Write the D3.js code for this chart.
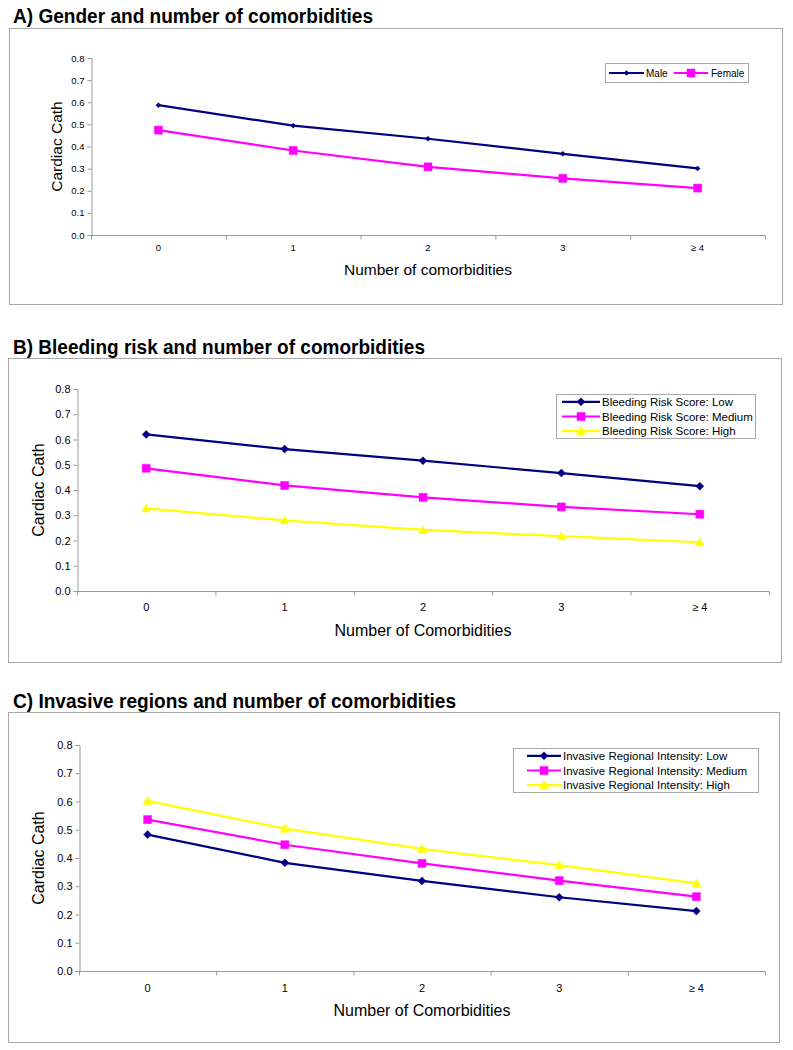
<!DOCTYPE html>
<html>
<head>
<meta charset="utf-8">
<script src="https://cdn.jsdelivr.net/npm/d3@7"></script>
<style>
  html, body { margin: 0; padding: 0; background: #fff; }
  svg { display: block; }
  text { font-family: "Liberation Sans", Arial, sans-serif; fill: #000; }
</style>
</head>
<body>
<svg id="chart" width="793" height="1050"></svg>
<script>
// ---------- data ----------
const categories = ["0", "1", "2", "3", "\u2265 4"];
const yTicks = [0, 0.1, 0.2, 0.3, 0.4, 0.5, 0.6, 0.7, 0.8];

const genderMale   = [0.587, 0.494, 0.435, 0.367, 0.301];
const genderFemale = [0.474, 0.382, 0.308, 0.256, 0.212];

const bleedLow    = [0.620, 0.562, 0.516, 0.467, 0.415];
const bleedMedium = [0.486, 0.418, 0.371, 0.333, 0.304];
const bleedHigh   = [0.327, 0.280, 0.242, 0.217, 0.193];

const invLow    = [0.483, 0.383, 0.319, 0.261, 0.212];
const invMedium = [0.536, 0.447, 0.381, 0.320, 0.263];
const invHigh   = [0.602, 0.504, 0.432, 0.375, 0.310];

const titles = [
  "A) Gender and number of comorbidities",
  "B) Bleeding risk and number of comorbidities",
  "C) Invasive regions and number of comorbidities"
];
const xTitles = ["Number of comorbidities", "Number of Comorbidities", "Number of Comorbidities"];
const yTitle = "Cardiac Cath";

const NAVY = "#000080", MAG = "#ff00ff", YEL = "#ffff00";

const panels = [
  {
    title: titles[0], titleY: 23, titleW: 360, xTitle: xTitles[0],
    box: [9, 28, 782, 304], plot: { x0: 91, x1: 765, y0: 235, y1: 58 },
    tickFont: 9.5, yLabelX: 56, xTickY: 251, xTitleY: 275, yTitleSize: 15.5, xTitleSize: 15.5,
    legend: { type: "row", x0: 605, y0: 63, x1: 748, y1: 82, font: 10 },
    series: [
      { name: "Male", values: genderMale, color: NAVY, marker: "diamond", size: 5 },
      { name: "Female", values: genderFemale, color: MAG, marker: "square", size: 8 }
    ]
  },
  {
    title: titles[1], titleY: 354, titleW: 412, xTitle: xTitles[1],
    box: [8, 358, 781, 662], plot: { x0: 77, x1: 769, y0: 591, y1: 389 },
    tickFont: 11, yLabelX: 38, xTickY: 611, xTitleY: 636, yTitleSize: 16, xTitleSize: 16,
    legend: { type: "col", x0: 556, y0: 394, x1: 755, y1: 438, font: 11.5, lineX0: 562, lineX1: 600, textX: 602 },
    series: [
      { name: "Bleeding Risk Score: Low", values: bleedLow, color: NAVY, marker: "diamond", size: 8 },
      { name: "Bleeding Risk Score: Medium", values: bleedMedium, color: MAG, marker: "square", size: 8 },
      { name: "Bleeding Risk Score: High", values: bleedHigh, color: YEL, marker: "triangle", size: 9 }
    ]
  },
  {
    title: titles[2], titleY: 708, titleW: 443, xTitle: xTitles[2],
    box: [8, 712, 779, 1042], plot: { x0: 79, x1: 765, y0: 971, y1: 745 },
    tickFont: 11, yLabelX: 38, xTickY: 992, xTitleY: 1016, yTitleSize: 16, xTitleSize: 16,
    legend: { type: "col", x0: 513, y0: 748, x1: 758, y1: 792, font: 11.5, lineX0: 527, lineX1: 561, textX: 563 },
    series: [
      { name: "Invasive Regional Intensity: Low", values: invLow, color: NAVY, marker: "diamond", size: 8 },
      { name: "Invasive Regional Intensity: Medium", values: invMedium, color: MAG, marker: "square", size: 8 },
      { name: "Invasive Regional Intensity: High", values: invHigh, color: YEL, marker: "triangle", size: 9 }
    ]
  }
];

const svg = d3.select("#chart");

function markerPath(type, size) {
  const h = size / 2;
  if (type === "diamond") return `M0,${-h}L${h},0L0,${h}L${-h},0Z`;
  if (type === "square") return `M${-h},${-h}H${h}V${h}H${-h}Z`;
  return `M0,${-h}L${h},${h * 0.8}L${-h},${h * 0.8}Z`;
}

function drawMarker(g, type, size, color, x, y) {
  g.append("path").attr("d", markerPath(type, size))
    .attr("transform", `translate(${x},${y})`)
    .attr("fill", color).attr("stroke", color).attr("stroke-width", 0.5);
}

panels.forEach(p => {
  const g = svg.append("g");

  // title
  g.append("text").attr("x", 13).attr("y", p.titleY)
    .attr("font-size", 19.5).attr("font-weight", "bold")
    .attr("textLength", p.titleW).attr("lengthAdjust", "spacingAndGlyphs")
    .text(p.title);

  // frame
  const [bx0, by0, bx1, by1] = p.box;
  g.append("rect").attr("x", bx0 + 0.5).attr("y", by0 + 0.5)
    .attr("width", bx1 - bx0).attr("height", by1 - by0)
    .attr("fill", "#fff").attr("stroke", "#a8a8a8").attr("stroke-width", 1);

  const x = d3.scaleBand().domain(categories).range([p.plot.x0, p.plot.x1]);
  const y = d3.scaleLinear().domain([0, 0.8]).range([p.plot.y0, p.plot.y1]);

  // y axis
  const yAxis = d3.axisLeft(y).tickValues(yTicks).tickFormat(d3.format(".1f")).tickSize(4).tickPadding(3);
  const ya = g.append("g").attr("transform", `translate(${p.plot.x0 + 0.5},0)`).call(yAxis);
  ya.select(".domain").attr("stroke", "#999");
  ya.selectAll(".tick line").attr("stroke", "#999");
  ya.selectAll(".tick text").attr("font-size", p.tickFont)
    .attr("font-family", "'Liberation Sans', Arial, sans-serif").attr("fill", "#000");

  // x axis: ticks at band boundaries, labels at band centres
  const xa = g.append("g").attr("transform", `translate(0,${p.plot.y0 + 0.5})`);
  xa.append("line").attr("x1", p.plot.x0).attr("x2", p.plot.x1).attr("stroke", "#999");
  const bounds = categories.map(c => x(c)).concat([p.plot.x1]);
  xa.selectAll("line.tk").data(bounds).join("line").attr("class", "tk")
    .attr("x1", d => d + 0.5).attr("x2", d => d + 0.5).attr("y1", 0).attr("y2", 4).attr("stroke", "#999");
  g.selectAll("text.xt").data(categories).join("text").attr("class", "xt")
    .attr("x", d => x(d) + x.bandwidth() / 2).attr("y", p.xTickY)
    .attr("text-anchor", "middle").attr("font-size", p.tickFont).text(d => d);

  // axis titles
  g.append("text").attr("transform", `translate(${p.yLabelX},${(p.plot.y0 + p.plot.y1) / 2}) rotate(-90)`)
    .attr("text-anchor", "middle").attr("dominant-baseline", "central")
    .attr("font-size", p.yTitleSize).text(yTitle);
  g.append("text").attr("x", (p.plot.x0 + p.plot.x1) / 2).attr("y", p.xTitleY)
    .attr("text-anchor", "middle").attr("font-size", p.xTitleSize).text(p.xTitle);

  // series
  const line = d3.line().x((d, i) => x(categories[i]) + x.bandwidth() / 2).y(d => y(d));
  p.series.forEach(s => {
    g.append("path").datum(s.values).attr("d", line)
      .attr("fill", "none").attr("stroke", s.color).attr("stroke-width", 2.2);
    s.values.forEach((v, i) => drawMarker(g, s.marker, s.size, s.color, x(categories[i]) + x.bandwidth() / 2, y(v)));
  });

  // legend
  const L = p.legend;
  g.append("rect").attr("x", L.x0 + 0.5).attr("y", L.y0 + 0.5)
    .attr("width", L.x1 - L.x0).attr("height", L.y1 - L.y0)
    .attr("fill", "#fff").attr("stroke", "#a8a8a8");
  if (L.type === "row") {
    const cy = (L.y0 + L.y1) / 2 + 0.5;
    const items = [{ lx0: 609, lx1: 644, tx: 646 }, { lx0: 674, lx1: 708, tx: 711 }];
    p.series.forEach((s, i) => {
      const it = items[i];
      g.append("line").attr("x1", it.lx0).attr("x2", it.lx1).attr("y1", cy).attr("y2", cy)
        .attr("stroke", s.color).attr("stroke-width", 2.2);
      drawMarker(g, s.marker, s.size, s.color, (it.lx0 + it.lx1) / 2, cy);
      g.append("text").attr("x", it.tx).attr("y", cy).attr("dominant-baseline", "central")
        .attr("font-size", L.font).text(s.name);
    });
  } else {
    const rowH = (L.y1 - L.y0) / 3;
    p.series.forEach((s, i) => {
      const cy = L.y0 + rowH * (i + 0.5) + 0.5;
      g.append("line").attr("x1", L.lineX0).attr("x2", L.lineX1).attr("y1", cy).attr("y2", cy)
        .attr("stroke", s.color).attr("stroke-width", 2.2);
      drawMarker(g, s.marker, s.size, s.color, (L.lineX0 + L.lineX1) / 2, cy);
      g.append("text").attr("x", L.textX).attr("y", cy).attr("dominant-baseline", "central")
        .attr("font-size", L.font).text(s.name);
    });
  }
});
</script>
</body>
</html>
